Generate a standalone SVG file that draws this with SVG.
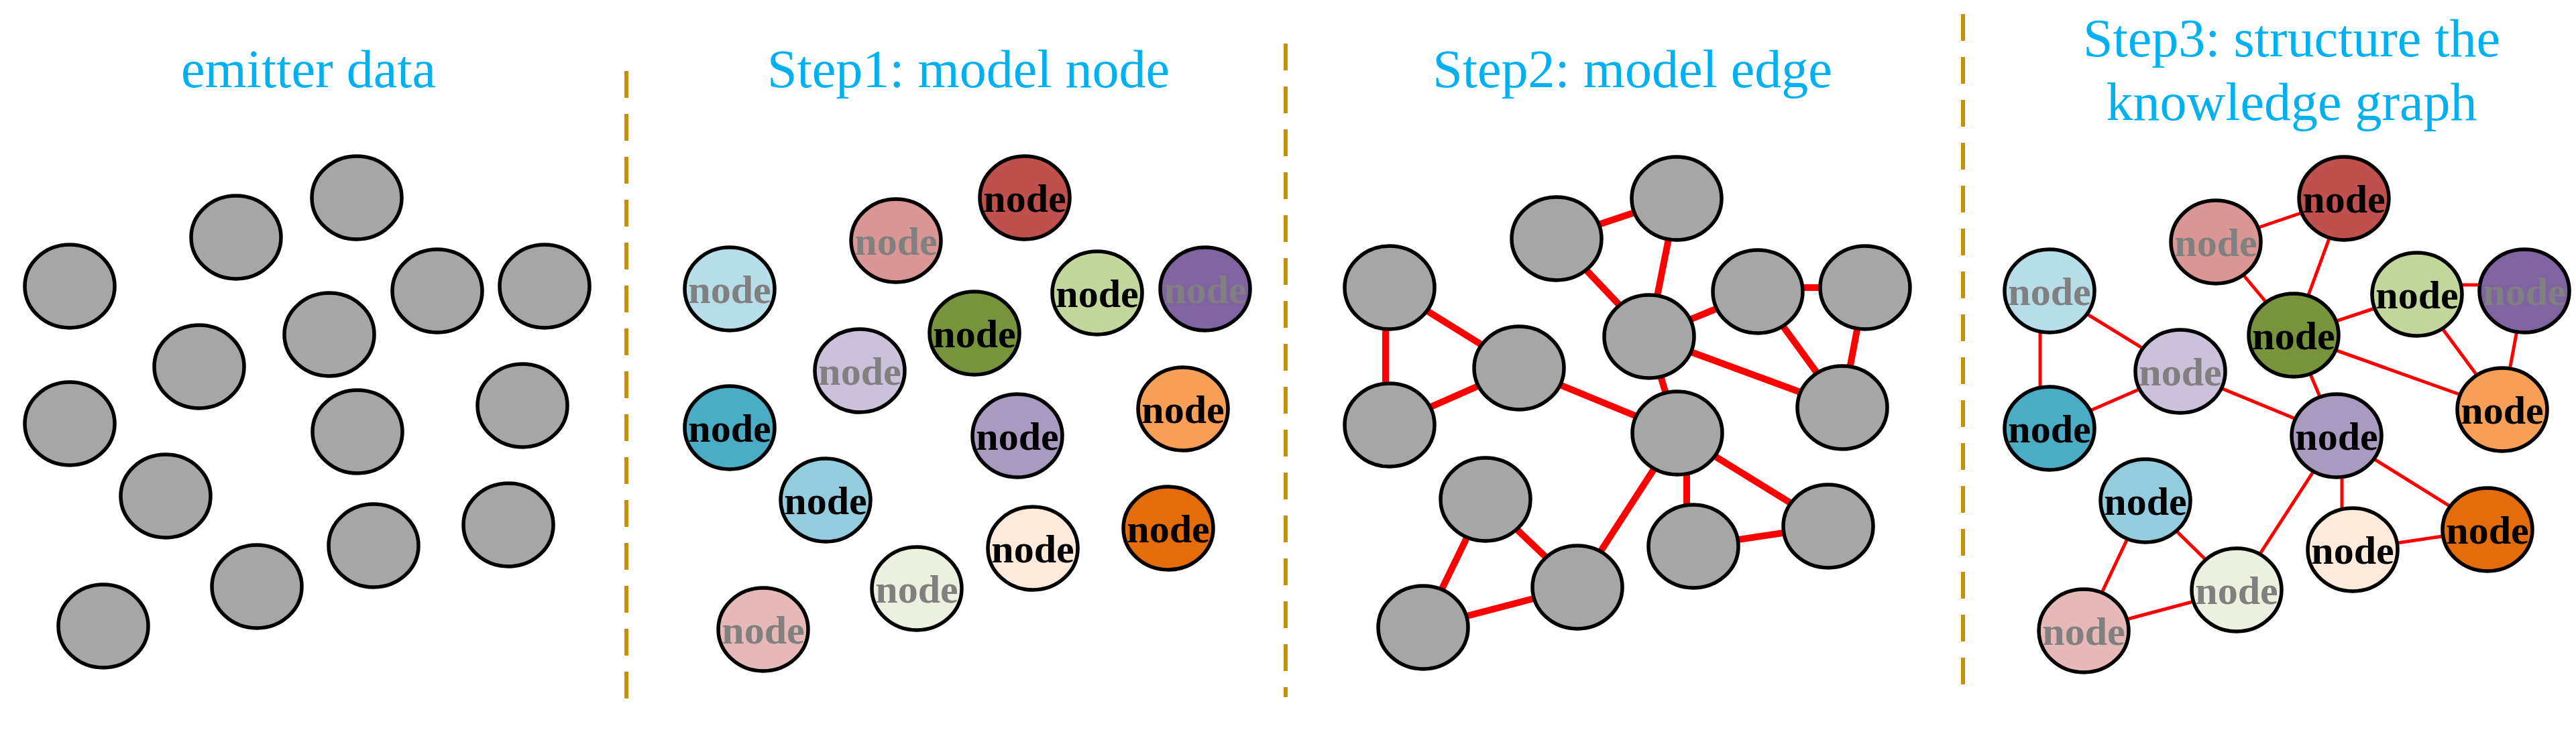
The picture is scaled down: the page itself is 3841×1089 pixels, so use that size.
<svg xmlns="http://www.w3.org/2000/svg" width="3841" height="1089" viewBox="0 0 3841 1089">
<style>
.t{font-family:"Liberation Serif",serif;font-size:80px;fill:#00b0f0;text-anchor:middle}
.g ellipse{stroke:#000;stroke-width:5.5}
.gr{fill:#a6a6a6}
.n{font-family:"Liberation Serif",serif;font-weight:bold;font-size:60px;text-anchor:middle}
.k{fill:#000}.w{fill:#808080}
.sep{stroke:#c59100;stroke-width:6;stroke-dasharray:40 24}
.e2 line{stroke:#ff0000;stroke-width:10}
.e3 line{stroke:#ff0000;stroke-width:5}
</style>
<rect width="3841" height="1089" fill="#fff"/>
<text class="t" x="460" y="130">emitter data</text>
<text class="t" x="1444" y="130">Step1: model node</text>
<text class="t" x="2434" y="130">Step2: model edge</text>
<text class="t" x="3417" y="84">Step3: structure the</text>
<text class="t" x="3417" y="179">knowledge graph</text>
<line class="sep" x1="934" y1="106" x2="934" y2="1060"/>
<line class="sep" x1="1917" y1="65" x2="1917" y2="1040"/>
<line class="sep" x1="2927" y1="21" x2="2927" y2="1035"/>

<g id="panel1" class="g">
<ellipse class="gr" cx="104" cy="427" rx="67" ry="62"/>
<ellipse class="gr" cx="352" cy="354" rx="67" ry="62"/>
<ellipse class="gr" cx="532" cy="295" rx="67" ry="62"/>
<ellipse class="gr" cx="652" cy="434" rx="67" ry="62"/>
<ellipse class="gr" cx="812" cy="427" rx="67" ry="62"/>
<ellipse class="gr" cx="491" cy="499" rx="67" ry="62"/>
<ellipse class="gr" cx="297" cy="547" rx="67" ry="62"/>
<ellipse class="gr" cx="104" cy="632" rx="67" ry="62"/>
<ellipse class="gr" cx="533" cy="644" rx="67" ry="62"/>
<ellipse class="gr" cx="779" cy="605" rx="67" ry="62"/>
<ellipse class="gr" cx="247" cy="740" rx="67" ry="62"/>
<ellipse class="gr" cx="758" cy="783" rx="67" ry="62"/>
<ellipse class="gr" cx="557" cy="814" rx="67" ry="62"/>
<ellipse class="gr" cx="383" cy="875" rx="67" ry="62"/>
<ellipse class="gr" cx="154" cy="934" rx="67" ry="62"/>
</g>

<g id="panel2" class="g">
<g id="p2n1"><ellipse cx="1088" cy="431" rx="67" ry="62" fill="#b7dde8"/><text class="n w" x="1088" y="452">node</text></g>
<g id="p2n2"><ellipse cx="1336" cy="359" rx="67" ry="62" fill="#d99694"/><text class="n w" x="1336" y="380">node</text></g>
<g id="p2n3"><ellipse cx="1528" cy="295" rx="67" ry="62" fill="#c0504d"/><text class="n k" x="1528" y="316">node</text></g>
<g id="p2n4"><ellipse cx="1636" cy="437" rx="67" ry="62" fill="#c3d69b"/><text class="n k" x="1636" y="458">node</text></g>
<g id="p2n5"><ellipse cx="1797" cy="431" rx="67" ry="62" fill="#8064a2"/><text class="n w" x="1797" y="452">node</text></g>
<g id="p2n6"><ellipse cx="1453" cy="497" rx="67" ry="62" fill="#77933c"/><text class="n k" x="1453" y="518">node</text></g>
<g id="p2n7"><ellipse cx="1282" cy="553" rx="67" ry="62" fill="#ccc1da"/><text class="n w" x="1282" y="574">node</text></g>
<g id="p2n8"><ellipse cx="1088" cy="638" rx="67" ry="62" fill="#4bacc6"/><text class="n k" x="1088" y="659">node</text></g>
<g id="p2n9"><ellipse cx="1517" cy="650" rx="67" ry="62" fill="#a99bbf"/><text class="n k" x="1517" y="671">node</text></g>
<g id="p2n10"><ellipse cx="1764" cy="610" rx="67" ry="62" fill="#f79f56"/><text class="n k" x="1764" y="631">node</text></g>
<g id="p2n11"><ellipse cx="1231" cy="746" rx="67" ry="62" fill="#93cddd"/><text class="n k" x="1231" y="767">node</text></g>
<g id="p2n12"><ellipse cx="1742" cy="788" rx="67" ry="62" fill="#e46c0a"/><text class="n k" x="1742" y="809">node</text></g>
<g id="p2n13"><ellipse cx="1540" cy="818" rx="67" ry="62" fill="#fdeada"/><text class="n k" x="1540" y="839">node</text></g>
<g id="p2n14"><ellipse cx="1367" cy="878" rx="67" ry="62" fill="#ebf1de"/><text class="n w" x="1367" y="899">node</text></g>
<g id="p2n15"><ellipse cx="1138" cy="939" rx="67" ry="62" fill="#e6b9b8"/><text class="n w" x="1138" y="960">node</text></g>
</g>

<g id="edges2" class="e2">
<line x1="2321" y1="356" x2="2500" y2="296"/>
<line x1="2500" y1="296" x2="2459" y2="502"/>
<line x1="2321" y1="356" x2="2459" y2="502"/>
<line x1="2072" y1="429" x2="2265" y2="549"/>
<line x1="2066" y1="429" x2="2066" y2="634"/>
<line x1="2072" y1="634" x2="2265" y2="549"/>
<line x1="2265" y1="549" x2="2501" y2="646"/>
<line x1="2459" y1="502" x2="2621" y2="435"/>
<line x1="2621" y1="429" x2="2781" y2="429"/>
<line x1="2621" y1="435" x2="2747" y2="608"/>
<line x1="2781" y1="429" x2="2747" y2="608"/>
<line x1="2459" y1="502" x2="2747" y2="608"/>
<line x1="2459" y1="502" x2="2501" y2="646"/>
<line x1="2501" y1="646" x2="2726" y2="785"/>
<line x1="2515" y1="646" x2="2515" y2="815"/>
<line x1="2525" y1="815" x2="2726" y2="785"/>
<line x1="2501" y1="646" x2="2352" y2="876"/>
<line x1="2215" y1="745" x2="2352" y2="876"/>
<line x1="2215" y1="745" x2="2122" y2="936"/>
<line x1="2122" y1="936" x2="2352" y2="876"/>
</g>

<g id="panel3" class="g">
<ellipse class="gr" cx="2072" cy="429" rx="67" ry="62"/>
<ellipse class="gr" cx="2321" cy="356" rx="67" ry="62"/>
<ellipse class="gr" cx="2500" cy="296" rx="67" ry="62"/>
<ellipse class="gr" cx="2621" cy="435" rx="67" ry="62"/>
<ellipse class="gr" cx="2781" cy="429" rx="67" ry="62"/>
<ellipse class="gr" cx="2459" cy="502" rx="67" ry="62"/>
<ellipse class="gr" cx="2265" cy="549" rx="67" ry="62"/>
<ellipse class="gr" cx="2072" cy="634" rx="67" ry="62"/>
<ellipse class="gr" cx="2501" cy="646" rx="67" ry="62"/>
<ellipse class="gr" cx="2747" cy="608" rx="67" ry="62"/>
<ellipse class="gr" cx="2215" cy="745" rx="67" ry="62"/>
<ellipse class="gr" cx="2726" cy="785" rx="67" ry="62"/>
<ellipse class="gr" cx="2525" cy="815" rx="67" ry="62"/>
<ellipse class="gr" cx="2352" cy="876" rx="67" ry="62"/>
<ellipse class="gr" cx="2122" cy="936" rx="67" ry="62"/>
</g>

<g id="edges3" class="e3">
<line x1="3304" y1="361" x2="3495" y2="296"/>
<line x1="3495" y1="296" x2="3420" y2="500"/>
<line x1="3304" y1="361" x2="3420" y2="500"/>
<line x1="3056" y1="434" x2="3251" y2="554"/>
<line x1="3042" y1="434" x2="3042" y2="639"/>
<line x1="3056" y1="639" x2="3251" y2="554"/>
<line x1="3251" y1="554" x2="3484" y2="650"/>
<line x1="3420" y1="500" x2="3604" y2="439"/>
<line x1="3604" y1="425" x2="3764" y2="425"/>
<line x1="3604" y1="439" x2="3731" y2="611"/>
<line x1="3764" y1="434" x2="3731" y2="611"/>
<line x1="3420" y1="500" x2="3731" y2="611"/>
<line x1="3420" y1="500" x2="3484" y2="650"/>
<line x1="3484" y1="650" x2="3709" y2="790"/>
<line x1="3492" y1="650" x2="3492" y2="820"/>
<line x1="3508" y1="820" x2="3709" y2="790"/>
<line x1="3484" y1="650" x2="3335" y2="880"/>
<line x1="3199" y1="747" x2="3335" y2="880"/>
<line x1="3199" y1="747" x2="3107" y2="941"/>
<line x1="3107" y1="941" x2="3335" y2="880"/>
</g>

<g id="panel4" class="g">
<g id="p4n1"><ellipse cx="3056" cy="434" rx="67" ry="62" fill="#b7dde8"/><text class="n w" x="3056" y="455">node</text></g>
<g id="p4n2"><ellipse cx="3304" cy="361" rx="67" ry="62" fill="#d99694"/><text class="n w" x="3304" y="382">node</text></g>
<g id="p4n3"><ellipse cx="3495" cy="296" rx="67" ry="62" fill="#c0504d"/><text class="n k" x="3495" y="317">node</text></g>
<g id="p4n4"><ellipse cx="3604" cy="439" rx="67" ry="62" fill="#c3d69b"/><text class="n k" x="3604" y="460">node</text></g>
<g id="p4n5"><ellipse cx="3764" cy="434" rx="67" ry="62" fill="#8064a2"/><text class="n w" x="3764" y="455">node</text></g>
<g id="p4n6"><ellipse cx="3420" cy="500" rx="67" ry="62" fill="#77933c"/><text class="n k" x="3420" y="521">node</text></g>
<g id="p4n7"><ellipse cx="3251" cy="554" rx="67" ry="62" fill="#ccc1da"/><text class="n w" x="3251" y="575">node</text></g>
<g id="p4n8"><ellipse cx="3056" cy="639" rx="67" ry="62" fill="#4bacc6"/><text class="n k" x="3056" y="660">node</text></g>
<g id="p4n9"><ellipse cx="3484" cy="650" rx="67" ry="62" fill="#a99bbf"/><text class="n k" x="3484" y="671">node</text></g>
<g id="p4n10"><ellipse cx="3731" cy="611" rx="67" ry="62" fill="#f79f56"/><text class="n k" x="3731" y="632">node</text></g>
<g id="p4n11"><ellipse cx="3199" cy="747" rx="67" ry="62" fill="#93cddd"/><text class="n k" x="3199" y="768">node</text></g>
<g id="p4n12"><ellipse cx="3709" cy="790" rx="67" ry="62" fill="#e46c0a"/><text class="n k" x="3709" y="811">node</text></g>
<g id="p4n13"><ellipse cx="3508" cy="820" rx="67" ry="62" fill="#fdeada"/><text class="n k" x="3508" y="841">node</text></g>
<g id="p4n14"><ellipse cx="3335" cy="880" rx="67" ry="62" fill="#ebf1de"/><text class="n w" x="3335" y="901">node</text></g>
<g id="p4n15"><ellipse cx="3107" cy="941" rx="67" ry="62" fill="#e6b9b8"/><text class="n w" x="3107" y="962">node</text></g>
</g>
</svg>
